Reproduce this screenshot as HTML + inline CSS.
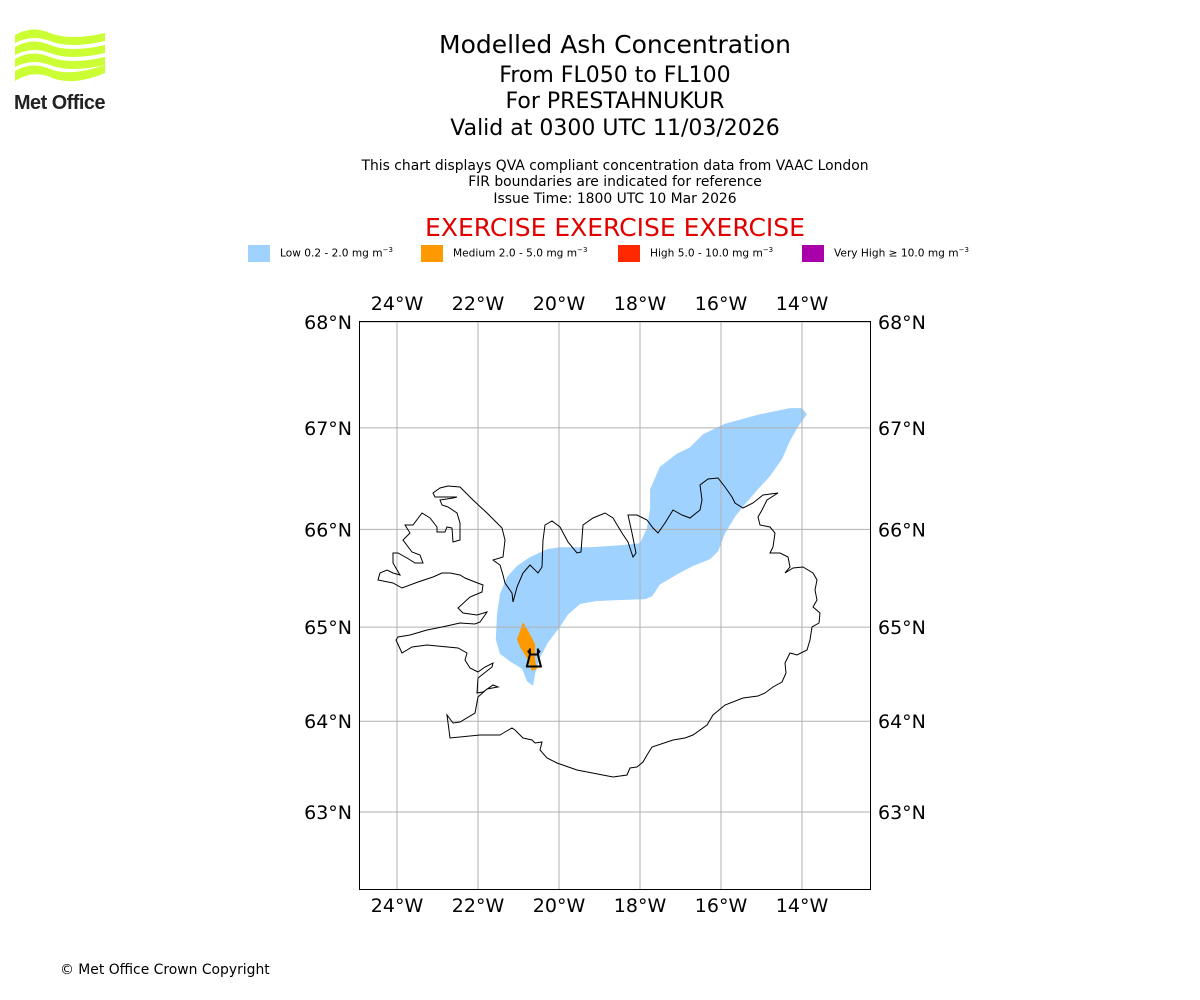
<!DOCTYPE html>
<html><head><meta charset="utf-8">
<style>
html,body{margin:0;padding:0;background:#fff;}
body{width:1200px;height:1000px;position:relative;overflow:hidden;font-family:"DejaVu Sans","Liberation Sans",sans-serif;color:#000;}
.t{position:absolute;left:0;width:1230px;text-align:center;white-space:nowrap;}
</style></head>
<body>
<svg style="position:absolute;left:12px;top:28px" width="100" height="86" viewBox="0 0 100 86">
  <g fill="#ccff33">
    <path d="M3 7 Q20 -3 38 5 Q58 13 93 5 L93 13 Q58 21 38 13 Q20 6 3 15Z"/>
    <path d="M3 19 Q20 9 38 17 Q58 25 93 17 L93 25 Q58 33 38 25 Q20 18 3 27Z"/>
    <path d="M3 31 Q20 21 38 29 Q58 37 93 29 L93 37 Q58 45 38 37 Q20 30 3 39Z"/>
    <path d="M3 43 Q20 33 38 41 Q58 49 93 37 L93 45 Q60 59 38 49 Q20 42 3 53Z"/>
  </g>
  <text x="2" y="81" font-family="Liberation Sans, sans-serif" font-weight="bold" font-size="20" fill="#222" letter-spacing="-0.5" textLength="91" lengthAdjust="spacingAndGlyphs">Met Office</text>
</svg>

<div class="t" style="top:30px;font-size:25px;">Modelled Ash Concentration</div>
<div class="t" style="top:63px;font-size:22px;">From FL050 to FL100</div>
<div class="t" style="top:89px;font-size:22px;">For PRESTAHNUKUR</div>
<div class="t" style="top:116px;font-size:22px;">Valid at 0300 UTC 11/03/2026</div>
<div class="t" style="top:158px;font-size:13.9px;">This chart displays QVA compliant concentration data from VAAC London</div>
<div class="t" style="top:174px;font-size:13.9px;">FIR boundaries are indicated for reference</div>
<div class="t" style="top:191px;font-size:13.9px;">Issue Time: 1800 UTC 10 Mar 2026</div>
<div class="t" style="top:213px;font-size:25px;color:#e00000;">EXERCISE EXERCISE EXERCISE</div>

<div style="position:absolute;left:0;top:244px;width:1200px;height:20px;font-size:10.6px;">
  <div style="position:absolute;left:248px;top:1px;width:22px;height:17px;background:#a0d2ff"></div>
  <div style="position:absolute;left:280px;top:2px;">Low 0.2 - 2.0 mg m<sup style="font-size:7px">−3</sup></div>
  <div style="position:absolute;left:421px;top:1px;width:22px;height:17px;background:#ff9900"></div>
  <div style="position:absolute;left:453px;top:2px;">Medium 2.0 - 5.0 mg m<sup style="font-size:7px">−3</sup></div>
  <div style="position:absolute;left:618px;top:1px;width:22px;height:17px;background:#ff2800"></div>
  <div style="position:absolute;left:650px;top:2px;">High 5.0 - 10.0 mg m<sup style="font-size:7px">−3</sup></div>
  <div style="position:absolute;left:802px;top:1px;width:22px;height:17px;background:#aa00aa"></div>
  <div style="position:absolute;left:834px;top:2px;">Very High ≥ 10.0 mg m<sup style="font-size:7px">−3</sup></div>
</div>

<svg id="map" style="position:absolute;left:0;top:0" width="1200" height="1000">
  <g id="plumes"></g>
  <g id="grid"></g>
  <path fill="none" stroke="#000" stroke-width="1" d="M460 487 L473 500 L487 513 L502 528 L505 540 L503 557 L493 560 L500 565 L503 575 L505 583 L512 593 L513 602 L517 587 L523 573 L530 565 L538 573 L542 567 L543 540 L545 525 L552 521 L560 527 L568 542 L577 553 L581 552 L583 525 L593 518 L605 513 L613 518 L622 533 L628 542 L633 557 L636 553 L632 533 L628 515 L637 515 L647 520 L653 528 L658 533 L665 523 L673 510 L682 515 L690 518 L700 510 L702 500 L700 485 L708 479 L718 478 L725 487 L732 497 L735 503 L743 508 L753 503 L763 495 L778 493 L767 500 L762 510 L758 517 L760 525 L770 527 L775 533 L773 547 L770 553 L780 553 L788 557 L790 567 L785 573 L793 568 L803 567 L813 573 L817 580 L815 590 L817 600 L813 607 L820 613 L819 623 L812 627 L810 640 L807 650 L797 655 L790 653 L785 663 L786 673 L782 682 L773 687 L765 693 L758 696 L743 698 L725 705 L713 715 L707 725 L693 735 L685 738 L673 740 L652 747 L647 755 L643 762 L637 767 L630 768 L627 775 L613 777 L577 770 L557 763 L547 758 L540 750 L542 742 L535 743 L532 740 L523 738 L515 730 L512 728 L505 732 L500 735 L480 735 L450 738 L447 715 L453 723 L460 722 L475 713 L478 697 L487 689 L498 687 L493 685 L483 692 L477 693 L478 678 L492 667 L493 663 L485 667 L478 672 L470 668 L465 660 L467 653 L458 648 L427 645 L412 647 L402 653 L396 640 L398 637 L410 635 L427 630 L432 629 L442 627 L460 623 L475 624 L480 622 L485 615 L487 612 L477 615 L463 613 L458 608 L470 597 L482 592 L483 585 L475 582 L465 578 L460 575 L450 573 L442 573 L433 577 L418 582 L402 588 L393 583 L378 580 L380 573 L387 570 L393 573 L400 575 L393 563 L393 553 L398 553 L407 558 L415 563 L423 563 L420 555 L412 552 L403 540 L410 533 L405 525 L413 525 L422 513 L430 518 L437 527 L437 532 L445 532 L447 527 L452 528 L453 542 L460 540 L460 523 L457 513 L448 507 L442 505 L440 500 L453 498 L457 497 L448 497 L435 497 L433 493 L440 488 L448 486 L460 487Z"/>
  <g id="volcano"></g>
  <rect x="359.5" y="321.5" width="511" height="568" fill="none" stroke="#000" stroke-width="1"/>
  <g id="labels" font-family="DejaVu Sans, Liberation Sans, sans-serif" font-size="19"></g>
</svg>

<div style="position:absolute;left:60px;top:962px;font-size:13.9px;">© Met Office Crown Copyright</div>

<script>
const lonTicks = [-24, -22, -20, -18, -16, -14];
const latTicks = [68, 67, 66, 65, 64, 63];
const lonTickLabels = ["24°W","22°W","20°W","18°W","16°W","14°W"];
const latTickLabels = ["68°N","67°N","66°N","65°N","64°N","63°N"];
const lowLon = [-14.0,-13.88,-14.10,-14.30,-14.49,-14.79,-15.09,-15.41,-15.65,-15.90,-16.07,-16.27,-16.69,-17.06,-17.51,-17.70,-17.88,-18.57,-19.09,-19.48,-19.78,-19.98,-20.27,-20.47,-20.59,-20.64,-20.79,-20.91,-21.21,-21.46,-21.56,-21.53,-21.46,-21.28,-21.04,-20.72,-20.30,-19.98,-19.23,-18.49,-18.00,-17.83,-17.75,-17.75,-17.51,-17.09,-16.77,-16.44,-15.90,-15.04,-14.30];
const lowLat = [67.19,67.13,67.01,66.87,66.70,66.53,66.40,66.25,66.13,65.96,65.78,65.70,65.63,65.55,65.44,65.32,65.29,65.28,65.27,65.24,65.13,65.00,64.84,64.68,64.51,64.38,64.43,64.56,64.64,64.72,64.87,65.13,65.34,65.52,65.63,65.72,65.80,65.82,65.82,65.84,65.86,66.01,66.21,66.40,66.62,66.75,66.81,66.94,67.04,67.13,67.19];
const medLon = [-20.89,-20.72,-20.59,-20.59,-20.54,-20.67,-20.77,-20.96,-21.04];
const medLat = [65.05,64.93,64.82,64.66,64.56,64.54,64.66,64.79,64.87];
const volcanoLon = -20.62;
const volcanoLat = 64.67;

const K = 40.5 * 180 / Math.PI;
function merc(lat){ return Math.log(Math.tan(Math.PI/4 + lat*Math.PI/360)); }
function xOf(lon){ return 397 + (lon + 24) * 40.5; }
function yOf(lat){ return 322 + (merc(68) - merc(lat)) * K; }

const NS = "http://www.w3.org/2000/svg";
function mk(tag, attrs){ const e = document.createElementNS(NS, tag); for (const k in attrs) e.setAttribute(k, attrs[k]); return e; }

const grid = document.getElementById('grid');
lonTicks.forEach((lon, i) => {
  const x = xOf(lon);
  const l = mk('line', {x1:x, x2:x, y1:322, y2:890, stroke:'#b0b0b0', 'stroke-width':1});
  
  
  grid.appendChild(l);
});
latTicks.forEach((lat, i) => {
  const y = yOf(lat);
  const l = mk('line', {x1:360, x2:871, y1:y, y2:y, stroke:'#b0b0b0', 'stroke-width':1});
  
  
  grid.appendChild(l);
});

const labels = document.getElementById('labels');
lonTicks.forEach((lon, i) => {
  [310, 912].forEach(y => {
    const t = mk('text', {x:xOf(lon), y:y, 'text-anchor':'middle'});
    t.textContent = lonTickLabels[i];
    
    
    labels.appendChild(t);
  });
});
latTicks.forEach((lat, i) => {
  const y = yOf(lat) + 7;
  const a = mk('text', {x:352, y:y, 'text-anchor':'end'});
  a.textContent = latTickLabels[i];
  
  
  labels.appendChild(a);
  const b = mk('text', {x:878, y:y, 'text-anchor':'start'});
  b.textContent = latTickLabels[i];
  
  
  labels.appendChild(b);
});

const plumes = document.getElementById('plumes');
function poly(lons, lats, fill, name){
  const pts = lons.map((lon, i) => xOf(lon).toFixed(1) + ',' + yOf(lats[i]).toFixed(1)).join(' ');
  const p = mk('polygon', {points: pts, fill: fill});
  
  
  plumes.appendChild(p);
}
poly(lowLon, lowLat, '#a0d2ff', 'ash-low-area');
poly(medLon, medLat, '#ff9900', 'ash-medium-area');

const vg = document.getElementById('volcano');
const vx = xOf(volcanoLon), vy = yOf(volcanoLat);
const v = mk('path', {d:`M${vx-8} ${vy+8} L${vx+8} ${vy+8} M${vx-4} ${vy-10} L${vx-4} ${vy-4} L${vx-7} ${vy+8} M${vx+4} ${vy-10} L${vx+4} ${vy-4} L${vx+7} ${vy+8} M${vx-4} ${vy-4} L${vx+4} ${vy-4} M${vx-6} ${vy-8} L${vx-4} ${vy-5} M${vx+6} ${vy-8} L${vx+4} ${vy-5}`, stroke:'#000', 'stroke-width':2, fill:'none'});


vg.appendChild(v);
</script>
</body></html>
